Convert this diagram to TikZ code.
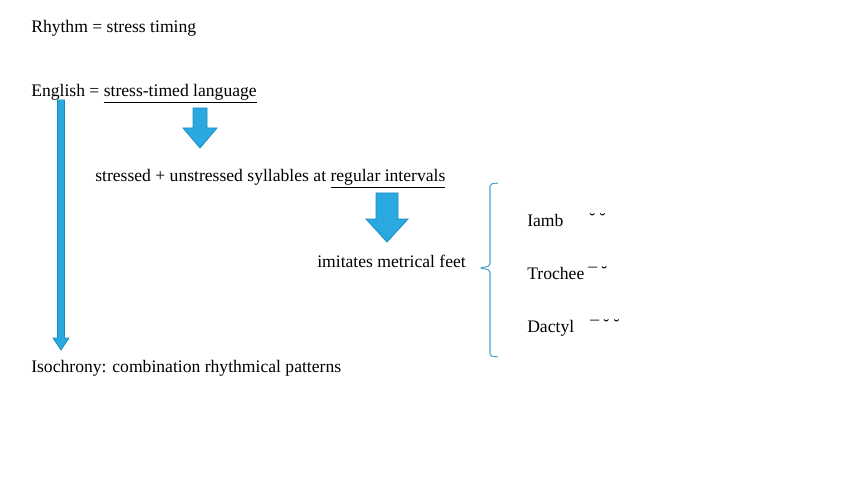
\documentclass[tikz,border=0pt]{standalone}
\usepackage{fontspec}
\setmainfont{Liberation Serif}
\usetikzlibrary{positioning}
\definecolor{ArrowBlue}{HTML}{29A9E0}
\definecolor{ArrowEdge}{HTML}{1C8BC0}
\definecolor{BraceTeal}{HTML}{4FA6C8}
% x, top, tip, half shaft, half head, head length
\newcommand\fatarrow[6]{\filldraw[fill=ArrowBlue,draw=ArrowEdge,line width=0.6pt,line join=miter] (#1-#4,#2) -- (#1+#4,#2) -- (#1+#4,#3-#6) -- (#1+#5,#3-#6) -- (#1,#3) -- (#1-#5,#3-#6) -- (#1-#4,#3-#6) -- cycle;}
\newcommand\longmark{\raisebox{-2.2pt}{¯}}

\begin{document}
\begin{tikzpicture}[x=0.75pt,y=-0.75pt, every node/.style={font=\fontsize{13.2}{16}\selectfont,inner sep=0pt,anchor=base west}]
  \useasboundingbox (0,0) rectangle (848,477);
  \node (rhythm) at (31,33) {Rhythm = stress timing};
  \node (english) at (31,97) {English = \underline{stress-timed language}};
  \node (stressed) at (95,182) {stressed + unstressed syllables at \underline{regular intervals}};
  \node (imitates) at (317,267) {imitates metrical feet};
  \node (iso) at (31,372) {Isochrony: combination rhythmical patterns};
  % feet with their marks
  \foreach \name/\y in {iamb/226,trochee/279,dactyl/332}{
    \node (\name) at (527,\y) {\expandafter\MakeUppercase\name};
  }
  \node (iambmarks) at (589,225) {˘ ˘};
  \node (trocheemarks) at (588,278) {\longmark\ ˘};
  \node (dactylmarks) at (590,331) {\longmark\ ˘ ˘};
  % arrows
  \fatarrow{61}{100}{350}{3.5}{8}{12}
  \fatarrow{200}{108}{148}{7}{17}{20}
  \fatarrow{387}{193}{242}{11}{21}{23}
  % brace
  \draw[BraceTeal,line width=0.8pt,rounded corners=1.5pt] (498,183) -- (490,184) -- (490,266) -- (480,268) -- (490,270) -- (490,356) -- (498,357);
\end{tikzpicture}
\end{document}
